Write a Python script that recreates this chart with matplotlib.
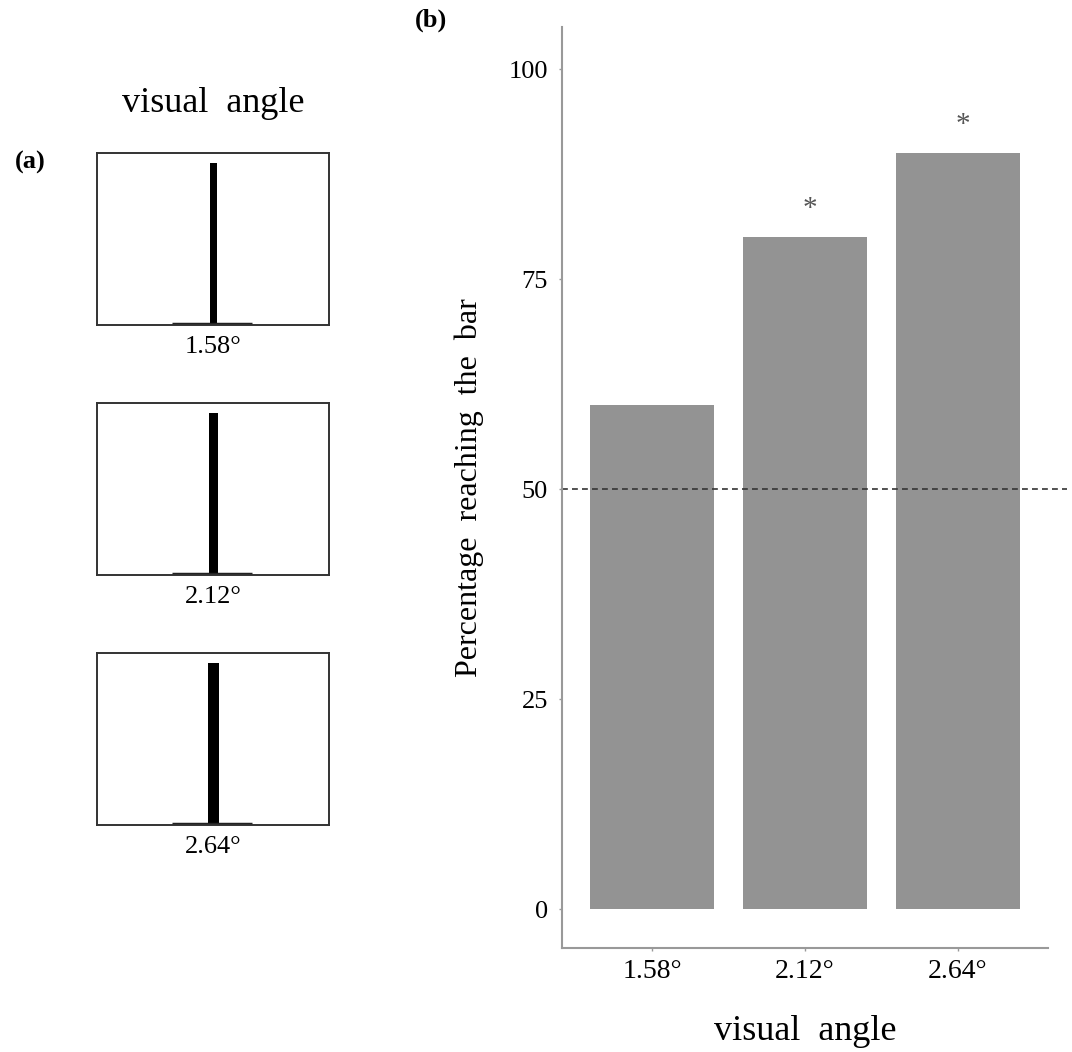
import matplotlib
matplotlib.use("Agg")
import matplotlib.pyplot as plt

plt.rcParams['font.family'] = ['Liberation Serif', 'DejaVu Serif']

# ---- data ----
categories = ["1.58°", "2.12°", "2.64°"]
percent_reaching = [60, 80, 90]
significant = [False, True, True]
chance_level = 50
yticks = [0, 25, 50, 75, 100]
stim_angles = [1.58, 2.12, 2.64]   # stimulus bar visual angle (deg)

W, H = 1072, 1052
fig = plt.figure(figsize=(W / 100, H / 100), dpi=100)

def px_axes(x0, y0, x1, y1):
    return fig.add_axes([x0 / W, 1 - y1 / H, (x1 - x0) / W, (y1 - y0) / H])

# ---- panel (a): stimulus boxes ----
box_tops = [153, 403, 653]
for i, (top, lab, ang) in enumerate(zip(box_tops, categories, stim_angles)):
    ax = px_axes(97, top, 329, top + 172)
    ax.set_xlim(0, 1)
    ax.set_ylim(0, 1)
    ax.bar([0.502], [0.94], width=ang * 0.019, color='black', bottom=0)
    ax.plot([0.323, 0.668], [0.006, 0.006], color='#222222', lw=2.5, solid_capstyle='butt')
    ax.set_xticks([])
    ax.set_yticks([])
    for s in ax.spines.values():
        s.set_color('#333333')
        s.set_linewidth(1.4)
    ax.text(0.5, -0.065, lab, transform=ax.transAxes, ha='center', va='top',
            fontsize=19)

fig.text(213 / W, 1 - 104 / H, "visual  angle", ha='center', va='center', fontsize=26)
fig.text(30 / W, 1 - 162 / H, "(a)", ha='center', va='center', fontsize=19, fontweight='bold')
fig.text(431 / W, 1 - 20 / H, "(b)", ha='center', va='center', fontsize=19, fontweight='bold')

# ---- panel (b): bar chart ----
ax = px_axes(562, 27, 1048, 948)
x = list(range(len(categories)))
ax.bar(x, percent_reaching, width=0.81, color='#939393')
ax.set_xlim(-0.59, 2.59)
ax.set_ylim(-4.6, 105)
ax.axhline(chance_level, xmin=0, xmax=1.04, color='#333333', lw=1.2,
           ls=(0, (3.5, 2.5)), clip_on=False)
for xi, v, sig in zip(x, percent_reaching, significant):
    if sig:
        ax.text(xi + 0.03, v + 1.8, "*", ha='center', va='bottom', fontsize=21, color='#555555')
ax.set_xticks(x)
ax.set_xticklabels(categories, fontsize=20)
ax.set_yticks(yticks)
ax.set_yticklabels([str(t) for t in yticks], fontsize=19)
ax.tick_params(axis='both', length=2, width=1, color='#999999', pad=8)
ax.tick_params(axis='x', pad=6)
for side in ['top', 'right']:
    ax.spines[side].set_visible(False)
for side in ['left', 'bottom']:
    ax.spines[side].set_color('#999999')
    ax.spines[side].set_linewidth(1.5)
ax.set_ylabel("Percentage  reaching  the  bar", fontsize=23, labelpad=18)
ax.set_xlabel("visual  angle", fontsize=26, labelpad=22)

fig.savefig("out.png", dpi=100)
